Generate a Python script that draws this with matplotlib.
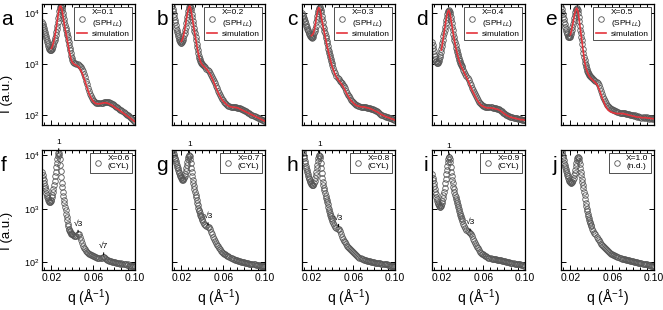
import numpy as np
import matplotlib
matplotlib.use("Agg")
import matplotlib.pyplot as plt
from matplotlib.ticker import FixedLocator, MultipleLocator, NullLocator, LogLocator, LogFormatterMathtext

plt.rcParams['font.family'] = ['Liberation Sans', 'DejaVu Sans']
plt.rcParams['mathtext.fontset'] = 'custom'
plt.rcParams['mathtext.rm'] = 'Liberation Sans'
plt.rcParams['mathtext.it'] = 'Liberation Sans:italic'

# q of the measured points (1/A): fine steps around the first peak, coarser after
q = [0.0110, 0.0115, 0.0120, 0.0125, 0.0130, 0.0135, 0.0140, 0.0145, 0.0150, 0.0155,
     0.0160, 0.0165, 0.0170, 0.0175, 0.0180, 0.0185, 0.0190, 0.0195, 0.0200, 0.0205,
     0.0210, 0.0215, 0.0220, 0.0225, 0.0230, 0.0235, 0.0240, 0.0245, 0.0250, 0.0255,
     0.0260, 0.0265, 0.0270, 0.0275, 0.0280, 0.0285, 0.0290, 0.0295, 0.0300, 0.0305,
     0.0310, 0.0315, 0.0320, 0.0325, 0.0330, 0.0335, 0.0340, 0.0345, 0.0350, 0.0355,
     0.0360, 0.0365, 0.0370, 0.0375, 0.0380, 0.0385, 0.0390, 0.0395, 0.0400,
     0.041, 0.042, 0.043, 0.044, 0.045, 0.046, 0.047, 0.048, 0.049, 0.050,
     0.051, 0.052, 0.053, 0.054, 0.055, 0.056, 0.057, 0.058, 0.059, 0.060,
     0.061, 0.062, 0.063, 0.064, 0.065, 0.066, 0.067, 0.068, 0.069, 0.070,
     0.071, 0.072, 0.073, 0.074, 0.075, 0.076, 0.077, 0.078, 0.079, 0.080,
     0.081, 0.082, 0.083, 0.084, 0.085, 0.086, 0.087, 0.088, 0.089, 0.090,
     0.091, 0.092, 0.093, 0.094, 0.095, 0.096, 0.097, 0.098, 0.099, 0.100]

# log10 of intensity
logI_a = [3.82, 3.78, 3.74, 3.70, 3.66, 3.62, 3.58, 3.54, 3.50, 3.46,
          3.42, 3.38, 3.35, 3.32, 3.29, 3.28, 3.27, 3.27, 3.28, 3.30,
          3.32, 3.35, 3.38, 3.42, 3.46, 3.51, 3.56, 3.62, 3.68, 3.75,
          3.82, 3.89, 3.96, 4.03, 4.08, 4.12, 4.13, 4.12, 4.10, 4.05,
          4.00, 3.94, 3.88, 3.82, 3.76, 3.71, 3.66, 3.61, 3.57, 3.52,
          3.47, 3.42, 3.37, 3.32, 3.27, 3.21, 3.16, 3.11, 3.07,
          3.04, 3.02, 3.01, 3.00, 2.99, 2.98, 2.96, 2.94, 2.90, 2.86,
          2.80, 2.74, 2.67, 2.60, 2.53, 2.47, 2.42, 2.37, 2.33, 2.29,
          2.27, 2.25, 2.24, 2.23, 2.23, 2.23, 2.23, 2.24, 2.24, 2.25,
          2.25, 2.25, 2.25, 2.25, 2.25, 2.24, 2.23, 2.22, 2.21, 2.19,
          2.18, 2.16, 2.15, 2.13, 2.12, 2.10, 2.09, 2.07, 2.06, 2.04,
          2.03, 2.01, 2.00, 1.98, 1.96, 1.94, 1.92, 1.90, 1.88, 1.86]
logI_b = [4.14, 4.08, 4.03, 3.97, 3.92, 3.86, 3.81, 3.76, 3.71, 3.66,
          3.62, 3.58, 3.54, 3.50, 3.47, 3.44, 3.42, 3.41, 3.41, 3.42,
          3.44, 3.47, 3.51, 3.56, 3.61, 3.67, 3.73, 3.79, 3.86, 3.92,
          3.98, 4.03, 4.08, 4.11, 4.13, 4.12, 4.10, 4.05, 3.98, 3.91,
          3.84, 3.77, 3.71, 3.65, 3.60, 3.53, 3.46, 3.39, 3.33, 3.27,
          3.21, 3.16, 3.12, 3.09, 3.06, 3.04, 3.02, 3.00, 2.99,
          2.97, 2.95, 2.93, 2.91, 2.89, 2.86, 2.83, 2.79, 2.75, 2.71,
          2.67, 2.62, 2.57, 2.52, 2.47, 2.43, 2.39, 2.35, 2.32, 2.29,
          2.26, 2.24, 2.22, 2.20, 2.18, 2.17, 2.16, 2.16, 2.15, 2.15,
          2.15, 2.15, 2.14, 2.14, 2.13, 2.13, 2.12, 2.11, 2.10, 2.09,
          2.08, 2.07, 2.06, 2.05, 2.04, 2.02, 2.01, 2.00, 1.99, 1.98,
          1.97, 1.96, 1.95, 1.94, 1.93, 1.92, 1.91, 1.90, 1.89, 1.88]
logI_c = [3.99, 3.96, 3.93, 3.90, 3.87, 3.84, 3.81, 3.78, 3.75, 3.72,
          3.69, 3.66, 3.64, 3.61, 3.59, 3.57, 3.55, 3.53, 3.52, 3.51,
          3.52, 3.53, 3.56, 3.60, 3.64, 3.69, 3.75, 3.81, 3.87, 3.93,
          3.99, 4.04, 4.08, 4.10, 4.11, 4.09, 4.06, 4.01, 3.94, 3.87,
          3.81, 3.75, 3.70, 3.65, 3.60, 3.55, 3.50, 3.45, 3.40, 3.35,
          3.30, 3.25, 3.21, 3.17, 3.13, 3.09, 3.05, 3.01, 2.98,
          2.92, 2.87, 2.82, 2.77, 2.73, 2.70, 2.67, 2.65, 2.62, 2.59,
          2.56, 2.52, 2.48, 2.44, 2.40, 2.37, 2.33, 2.30, 2.27, 2.25,
          2.23, 2.21, 2.20, 2.19, 2.18, 2.17, 2.16, 2.16, 2.16, 2.16,
          2.15, 2.15, 2.14, 2.14, 2.13, 2.13, 2.12, 2.12, 2.11, 2.10,
          2.09, 2.08, 2.07, 2.06, 2.04, 2.03, 2.01, 2.00, 1.99, 1.98,
          1.97, 1.97, 1.96, 1.95, 1.94, 1.94, 1.93, 1.92, 1.91, 1.91]
logI_d = [3.42, 3.37, 3.32, 3.26, 3.20, 3.15, 3.10, 3.06, 3.03, 3.02,
          3.01, 3.02, 3.03, 3.06, 3.09, 3.13, 3.18, 3.23, 3.29, 3.35,
          3.41, 3.47, 3.54, 3.60, 3.67, 3.73, 3.80, 3.86, 3.92, 3.97,
          4.01, 4.04, 4.05, 4.04, 4.02, 3.98, 3.92, 3.86, 3.79, 3.72,
          3.66, 3.59, 3.53, 3.47, 3.42, 3.37, 3.32, 3.27, 3.23, 3.19,
          3.15, 3.11, 3.08, 3.05, 3.02, 2.99, 2.97, 2.95, 2.93,
          2.88, 2.84, 2.80, 2.76, 2.72, 2.68, 2.63, 2.58, 2.53, 2.49,
          2.45, 2.41, 2.37, 2.33, 2.29, 2.26, 2.23, 2.21, 2.19, 2.18,
          2.17, 2.16, 2.15, 2.15, 2.15, 2.15, 2.15, 2.15, 2.14, 2.14,
          2.13, 2.13, 2.12, 2.12, 2.11, 2.10, 2.08, 2.07, 2.05, 2.04,
          2.02, 2.01, 2.00, 1.99, 1.98, 1.97, 1.96, 1.96, 1.95, 1.95,
          1.94, 1.94, 1.93, 1.93, 1.92, 1.92, 1.91, 1.91, 1.91, 1.91]
logI_e = [4.12, 4.07, 4.02, 3.97, 3.92, 3.87, 3.82, 3.77, 3.73, 3.69,
          3.65, 3.61, 3.58, 3.55, 3.53, 3.52, 3.52, 3.53, 3.55, 3.58,
          3.62, 3.67, 3.72, 3.78, 3.84, 3.90, 3.96, 4.01, 4.05, 4.08,
          4.09, 4.08, 4.06, 4.00, 3.92, 3.84, 3.75, 3.67, 3.60, 3.53,
          3.46, 3.38, 3.30, 3.22, 3.14, 3.07, 3.01, 2.97, 2.93, 2.90,
          2.87, 2.85, 2.83, 2.81, 2.79, 2.77, 2.76, 2.75, 2.74,
          2.72, 2.70, 2.68, 2.66, 2.64, 2.62, 2.58, 2.53, 2.47, 2.41,
          2.36, 2.31, 2.27, 2.23, 2.20, 2.18, 2.16, 2.14, 2.12, 2.11,
          2.10, 2.09, 2.08, 2.07, 2.06, 2.06, 2.05, 2.05, 2.05, 2.05,
          2.04, 2.04, 2.03, 2.03, 2.02, 2.02, 2.01, 2.01, 2.00, 2.00,
          1.99, 2.00, 1.98, 1.97, 1.98, 1.96, 1.97, 1.95, 1.97, 1.95,
          1.96, 1.94, 1.96, 1.95, 1.93, 1.95, 1.94, 1.92, 1.94, 1.93]
logI_f = [3.68, 3.63, 3.58, 3.53, 3.48, 3.43, 3.39, 3.34, 3.30, 3.26,
          3.22, 3.19, 3.16, 3.14, 3.13, 3.12, 3.13, 3.14, 3.17, 3.21,
          3.25, 3.31, 3.37, 3.44, 3.52, 3.60, 3.68, 3.77, 3.85, 3.93,
          3.99, 4.03, 4.04, 4.00, 3.92, 3.81, 3.70, 3.59, 3.48, 3.40,
          3.32, 3.24, 3.17, 3.10, 3.04, 2.97, 2.91, 2.84, 2.78, 2.72,
          2.67, 2.63, 2.60, 2.58, 2.56, 2.54, 2.53, 2.52, 2.52,
          2.51, 2.50, 2.49, 2.50, 2.52, 2.52, 2.48, 2.42, 2.36, 2.31,
          2.27, 2.24, 2.21, 2.19, 2.17, 2.16, 2.15, 2.14, 2.13, 2.12,
          2.11, 2.10, 2.10, 2.09, 2.09, 2.08, 2.08, 2.09, 2.10, 2.10,
          2.08, 2.06, 2.05, 2.04, 2.03, 2.02, 2.02, 2.01, 2.01, 2.00,
          2.00, 1.99, 1.99, 1.98, 1.99, 1.97, 1.98, 1.97, 1.96, 1.97,
          1.96, 1.95, 1.96, 1.94, 1.95, 1.94, 1.93, 1.94, 1.93, 1.93]
logI_g = [4.12, 4.09, 4.06, 4.02, 3.99, 3.95, 3.92, 3.88, 3.85, 3.81,
          3.78, 3.75, 3.72, 3.69, 3.66, 3.63, 3.61, 3.59, 3.57, 3.55,
          3.54, 3.54, 3.55, 3.57, 3.61, 3.65, 3.70, 3.75, 3.81, 3.87,
          3.92, 3.96, 3.99, 4.00, 3.98, 3.93, 3.85, 3.76, 3.68, 3.61,
          3.54, 3.48, 3.42, 3.36, 3.31, 3.26, 3.21, 3.16, 3.11, 3.06,
          3.02, 2.98, 2.95, 2.92, 2.89, 2.86, 2.84, 2.81, 2.79,
          2.75, 2.72, 2.69, 2.67, 2.66, 2.66, 2.62, 2.57, 2.52, 2.48,
          2.44, 2.40, 2.36, 2.33, 2.30, 2.27, 2.24, 2.22, 2.20, 2.18,
          2.16, 2.15, 2.13, 2.12, 2.11, 2.10, 2.09, 2.08, 2.07, 2.06,
          2.05, 2.05, 2.04, 2.03, 2.02, 2.02, 2.01, 2.01, 2.00, 2.00,
          1.99, 1.99, 1.98, 1.98, 1.97, 1.97, 1.96, 1.96, 1.96, 1.96,
          1.95, 1.95, 1.95, 1.95, 1.94, 1.94, 1.94, 1.94, 1.93, 1.93]
logI_h = [4.12, 4.07, 4.03, 3.98, 3.94, 3.89, 3.85, 3.80, 3.76, 3.72,
          3.68, 3.64, 3.61, 3.58, 3.55, 3.52, 3.50, 3.48, 3.46, 3.45,
          3.44, 3.44, 3.45, 3.48, 3.52, 3.57, 3.62, 3.68, 3.75, 3.82,
          3.88, 3.94, 3.98, 4.00, 3.99, 3.94, 3.86, 3.76, 3.66, 3.57,
          3.50, 3.44, 3.39, 3.34, 3.29, 3.24, 3.20, 3.16, 3.12, 3.08,
          3.04, 3.00, 2.96, 2.92, 2.89, 2.86, 2.83, 2.80, 2.77,
          2.73, 2.69, 2.66, 2.64, 2.63, 2.63, 2.58, 2.52, 2.47, 2.43,
          2.40, 2.37, 2.34, 2.31, 2.29, 2.27, 2.25, 2.23, 2.21, 2.19,
          2.17, 2.15, 2.13, 2.12, 2.10, 2.09, 2.08, 2.07, 2.06, 2.05,
          2.04, 2.04, 2.03, 2.03, 2.02, 2.02, 2.01, 2.01, 2.00, 2.00,
          1.99, 1.99, 1.98, 1.98, 1.98, 1.98, 1.97, 1.97, 1.96, 1.96,
          1.96, 1.96, 1.95, 1.95, 1.94, 1.94, 1.94, 1.94, 1.93, 1.93]
logI_i = [3.64, 3.58, 3.53, 3.47, 3.42, 3.37, 3.32, 3.27, 3.22, 3.18,
          3.14, 3.11, 3.08, 3.06, 3.05, 3.04, 3.04, 3.05, 3.07, 3.10,
          3.14, 3.19, 3.25, 3.32, 3.39, 3.47, 3.55, 3.64, 3.72, 3.80,
          3.87, 3.93, 3.96, 3.96, 3.93, 3.87, 3.78, 3.69, 3.60, 3.53,
          3.47, 3.41, 3.36, 3.31, 3.26, 3.22, 3.18, 3.14, 3.10, 3.06,
          3.03, 3.00, 2.96, 2.92, 2.89, 2.86, 2.83, 2.80, 2.77,
          2.72, 2.68, 2.64, 2.60, 2.58, 2.56, 2.55, 2.53, 2.49, 2.44,
          2.40, 2.36, 2.32, 2.29, 2.26, 2.23, 2.20, 2.18, 2.16, 2.15,
          2.13, 2.12, 2.11, 2.10, 2.09, 2.08, 2.08, 2.07, 2.07, 2.06,
          2.06, 2.06, 2.05, 2.05, 2.05, 2.04, 2.04, 2.03, 2.03, 2.02,
          2.02, 2.01, 2.01, 2.00, 2.00, 1.99, 1.99, 1.98, 1.98, 1.97,
          1.97, 1.97, 1.96, 1.96, 1.96, 1.95, 1.95, 1.95, 1.94, 1.94]
logI_j = [4.12, 4.08, 4.04, 3.99, 3.95, 3.90, 3.86, 3.82, 3.78, 3.74,
          3.70, 3.66, 3.63, 3.60, 3.57, 3.54, 3.52, 3.50, 3.49, 3.48,
          3.48, 3.49, 3.50, 3.53, 3.57, 3.62, 3.67, 3.73, 3.79, 3.85,
          3.90, 3.94, 3.96, 3.96, 3.94, 3.89, 3.83, 3.76, 3.68, 3.62,
          3.56, 3.50, 3.44, 3.38, 3.32, 3.25, 3.18, 3.11, 3.05, 3.00,
          2.95, 2.90, 2.86, 2.82, 2.79, 2.76, 2.73, 2.70, 2.67,
          2.63, 2.59, 2.55, 2.52, 2.48, 2.44, 2.41, 2.38, 2.35, 2.33,
          2.31, 2.29, 2.27, 2.25, 2.23, 2.21, 2.19, 2.18, 2.16, 2.15,
          2.14, 2.13, 2.12, 2.11, 2.10, 2.10, 2.09, 2.08, 2.07, 2.07,
          2.06, 2.06, 2.05, 2.05, 2.04, 2.04, 2.03, 2.03, 2.02, 2.02,
          2.01, 2.01, 2.00, 2.00, 1.99, 1.99, 1.98, 1.98, 1.97, 1.97,
          1.96, 1.96, 1.96, 1.95, 1.95, 1.95, 1.94, 1.94, 1.93, 1.93]

# simulated curves (log10 I)
q_sim = [0.020, 0.021, 0.022, 0.023, 0.024, 0.025, 0.026, 0.027, 0.028, 0.029,
         0.030, 0.031, 0.032, 0.033, 0.034, 0.035, 0.036, 0.037, 0.038, 0.039, 0.040,
         0.042, 0.044, 0.046, 0.048, 0.050, 0.052, 0.054, 0.056, 0.058, 0.060,
         0.062, 0.064, 0.066, 0.068, 0.070, 0.072, 0.074, 0.076, 0.078, 0.080,
         0.082, 0.084, 0.086, 0.088, 0.090, 0.092, 0.094, 0.096, 0.098, 0.100]
sim_a = [3.30, 3.35, 3.42, 3.51, 3.62, 3.75, 3.90, 4.04, 4.12, 4.13,
         4.07, 3.95, 3.82, 3.70, 3.59, 3.48, 3.37, 3.26, 3.16, 3.08, 3.03,
         2.99, 2.97, 2.94, 2.88, 2.79, 2.67, 2.54, 2.42, 2.33, 2.27,
         2.23, 2.22, 2.22, 2.23, 2.24, 2.24, 2.23, 2.21, 2.19, 2.16,
         2.13, 2.11, 2.08, 2.05, 2.02, 1.99, 1.96, 1.93, 1.90, 1.87]
sim_b = [3.44, 3.48, 3.55, 3.65, 3.77, 3.90, 4.01, 4.10, 4.13, 4.07,
         3.95, 3.82, 3.69, 3.57, 3.45, 3.33, 3.22, 3.13, 3.06, 3.01, 2.98,
         2.94, 2.90, 2.85, 2.78, 2.69, 2.59, 2.49, 2.40, 2.33, 2.27,
         2.23, 2.19, 2.17, 2.16, 2.15, 2.15, 2.14, 2.12, 2.10, 2.08,
         2.06, 2.04, 2.02, 2.00, 1.98, 1.96, 1.94, 1.92, 1.90, 1.88]
sim_c = [3.55, 3.57, 3.60, 3.68, 3.80, 3.93, 4.04, 4.10, 4.08, 3.98,
         3.86, 3.75, 3.65, 3.55, 3.45, 3.35, 3.26, 3.17, 3.09, 3.01, 2.94,
         2.83, 2.74, 2.68, 2.63, 2.57, 2.49, 2.41, 2.34, 2.28, 2.24,
         2.20, 2.18, 2.17, 2.16, 2.16, 2.15, 2.14, 2.13, 2.11, 2.09,
         2.07, 2.05, 2.02, 2.00, 1.98, 1.96, 1.95, 1.93, 1.92, 1.90]
sim_d = [3.27, 3.40, 3.53, 3.67, 3.80, 3.92, 4.01, 4.05, 4.00, 3.89,
         3.76, 3.63, 3.51, 3.40, 3.30, 3.21, 3.13, 3.06, 3.00, 2.95, 2.91,
         2.82, 2.74, 2.65, 2.55, 2.46, 2.38, 2.30, 2.24, 2.19, 2.17,
         2.15, 2.14, 2.14, 2.14, 2.13, 2.12, 2.11, 2.09, 2.06, 2.03,
         2.00, 1.98, 1.96, 1.95, 1.94, 1.93, 1.92, 1.91, 1.91, 1.90]
sim_e = [3.57, 3.65, 3.75, 3.86, 3.97, 4.05, 4.09, 4.05, 3.92, 3.76,
         3.60, 3.45, 3.29, 3.13, 3.00, 2.91, 2.85, 2.80, 2.76, 2.73, 2.71,
         2.67, 2.63, 2.58, 2.48, 2.36, 2.25, 2.16, 2.10, 2.07, 2.05,
         2.04, 2.03, 2.03, 2.03, 2.03, 2.02, 2.01, 2.00, 1.99, 1.98,
         1.97, 1.96, 1.96, 1.95, 1.95, 1.95, 1.94, 1.94, 1.93, 1.93]

letters = ['a', 'b', 'c', 'd', 'e', 'f', 'g', 'h', 'i', 'j']
x_labels = ['X=0.1', 'X=0.2', 'X=0.3', 'X=0.4', 'X=0.5',
            'X=0.6', 'X=0.7', 'X=0.8', 'X=0.9', 'X=1.0']
phases = ['(SPH$_{LL}$)'] * 5 + ['(CYL)'] * 4 + ['(n.d.)']
curves = [logI_a, logI_b, logI_c, logI_d, logI_e,
          logI_f, logI_g, logI_h, logI_i, logI_j]
sims = [sim_a, sim_b, sim_c, sim_d, sim_e, None, None, None, None, None]

# Bragg peak labels for the CYL panels
peak_labels = {5: ['1', '\u221a3', '\u221a7'], 6: ['1', '\u221a3'],
               7: ['1', '\u221a3'], 8: ['1', '\u221a3']}
peak_q = {5: [0.0270, 0.0455, 0.070], 6: [0.0275, 0.0455],
          7: [0.0278, 0.046], 8: [0.0273, 0.0474]}

W, H = 663, 310
fig = plt.figure(figsize=(W / 100, H / 100), dpi=100)

lefts = [42, 172, 302, 432, 561]
rows = [(4, 125), (150, 270)]
ylims = [(64, 1.48e4), (72, 1.24e4)]
pw = 93

for k in range(10):
    r, c = k // 5, k % 5
    top, bot = rows[r]
    ax = fig.add_axes([lefts[c] / W, 1 - bot / H, pw / W, (bot - top) / H])
    ax.set_yscale('log')
    I = 10 ** np.array(curves[k])
    ax.plot(q, I, 'o', mfc='none', mec='#575757', ms=4, mew=0.6,
            label=x_labels[k] + '\n' + phases[k])
    if sims[k] is not None:
        ax.plot(q_sim, 10 ** np.array(sims[k]), color='#e4343c', lw=1.2,
                label='simulation')

    ax.set_xlim(0.011, 0.100)
    ax.set_ylim(*ylims[r])
    ax.xaxis.set_major_locator(FixedLocator([0.02, 0.06, 0.10]))
    ax.xaxis.set_minor_locator(MultipleLocator(0.04 / 6))
    ax.yaxis.set_major_locator(LogLocator(base=10, numticks=10))
    ax.yaxis.set_major_formatter(LogFormatterMathtext())
    ax.yaxis.set_minor_locator(NullLocator())
    ax.tick_params(which='both', direction='in', top=True, right=True, width=0.7)
    ax.tick_params(which='major', length=3.5, labelsize=7.5, pad=2)
    ax.tick_params(axis='y', labelsize=6.5)
    ax.tick_params(which='minor', length=2)
    ax.tick_params(labelleft=(c == 0), labelbottom=(r == 1))
    for s in ax.spines.values():
        s.set_linewidth(0.9)
    if r == 1:
        ax.xaxis.set_major_formatter(plt.FuncFormatter(lambda v, p: '%.2f' % v))

    leg = ax.legend(loc='upper right', fontsize=6, fancybox=False, edgecolor='#333333',
                    framealpha=1, borderpad=0.3, labelspacing=0.15, handlelength=1.3,
                    handletextpad=0.5, borderaxespad=0.35, numpoints=1)
    leg.get_frame().set_linewidth(0.6)

    if k in peak_labels:
        for lab, qp in zip(peak_labels[k], peak_q[k]):
            Ip = 10 ** np.interp(qp, q, curves[k])
            ax.annotate(lab, xy=(qp, Ip), xytext=(0, 5), textcoords='offset points',
                        ha='center', va='bottom', fontsize=6, annotation_clip=False,
                        arrowprops=dict(arrowstyle='-', lw=0.8, color='k',
                                        shrinkA=0, shrinkB=1.5))

    # panel letter
    if c == 0:
        fig.text(1 / W, 1 - (top + 21) / H, letters[k], fontsize=15, ha='left', va='baseline')
    else:
        fig.text((lefts[c] - 4) / W, 1 - (top + 21) / H, letters[k], fontsize=15,
                 ha='right', va='baseline')

    if r == 1:
        fig.text((lefts[c] + pw / 2) / W, 1 - 298 / H, 'q (\u00c5$^{-1}$)', fontsize=10,
                 ha='center', va='center')

fig.text(7 / W, 1 - 94 / H, 'I (a.u.)', fontsize=9.5, rotation=90, ha='center', va='center')
fig.text(7 / W, 1 - 231 / H, 'I (a.u.)', fontsize=9.5, rotation=90, ha='center', va='center')

fig.savefig('out.png', dpi=100)
